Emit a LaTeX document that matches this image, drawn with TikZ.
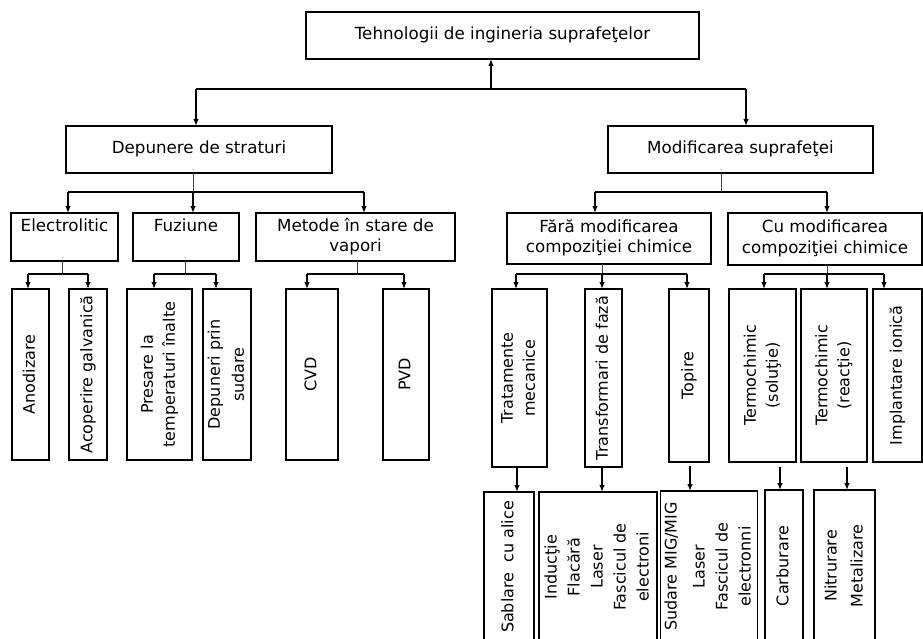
\documentclass[tikz,border=0pt]{standalone}
\usepackage{fontspec}
\setmainfont{DejaVu Sans}
\usepackage{graphicx}
\usetikzlibrary{arrows.meta}
\newcommand{\vt}[2][22]{\rotatebox{90}{\fontsize{16}{#1}\selectfont\begin{tabular}{@{}c@{}}#2\end{tabular}}}
\newcommand{\hx}[1]{{\fontsize{16.7}{20}\selectfont\begin{tabular}{@{}c@{}}#1\end{tabular}}}
\tikzset{
  box/.style={draw, line width=1.1pt, inner sep=0pt, outer sep=0pt, align=center},
  ln/.style={line width=1.3pt},
  stub/.style={line width=0.9pt, black!75},
  arr/.style={line width=1.3pt, -{Latex[length=7pt,width=5.5pt]}},
}
\begin{document}
\begin{tikzpicture}[x=1pt,y=-1pt]
\useasboundingbox (0,0) rectangle (923,639);
% level 0
\node[box, minimum width=393pt, minimum height=47pt] (top) at (502.5,35.5) {\hx{Tehnologii de ingineria suprafeţelor}};
% level 1
\node[box, minimum width=266pt, minimum height=47pt] (dep) at (199,149.5) {\hx{Depunere de straturi}};
\node[box, minimum width=265pt, minimum height=47pt] (mod) at (740.5,149.5) {\hx{Modificarea suprafeţei}};
% level 2
\node[box, minimum width=107pt, minimum height=48pt] (ele) at (64.5,237) {\hx{Electrolitic\\~}};
\node[box, minimum width=106pt, minimum height=48pt] (fuz) at (186,237) {\hx{Fuziune\\~}};
\node[box, minimum width=199pt, minimum height=48pt] (met) at (355.5,237) {\hx{Metode în stare de\\vapori}};
\node[box, minimum width=204pt, minimum height=51pt] (fara) at (609,238.5) {\hx{Fără modificarea\\compoziţiei chimice}};
\node[box, minimum width=194pt, minimum height=52pt] (cu) at (825,239) {\hx{Cu modificarea\\compoziţiei chimice}};
% level 3 left
\node[box, minimum width=37pt, minimum height=171pt] (ano) at (30.5,374.5) {\vt{Anodizare}};
\node[box, minimum width=38pt, minimum height=171pt] (aco) at (88,374.5) {\vt{Acoperire galvanică}};
\node[box, minimum width=65pt, minimum height=171pt] (pre) at (159.5,374.5) {\vt{Presare la\\temperaturi înalte}};
\node[box, minimum width=46pt, minimum height=171pt] (dpr) at (227,374.5) {\vt[24]{Depuneri prin\\sudare}};
\node[box, minimum width=52pt, minimum height=171pt] (cvd) at (312,374.5) {\vt{CVD}};
\node[box, minimum width=46pt, minimum height=171pt] (pvd) at (406,374.5) {\vt{PVD}};
% level 3 right
\node[box, minimum width=55pt, minimum height=178pt] (trat) at (519.5,378) {\vt{Tratamente\\mecanice}};
\node[box, minimum width=37pt, minimum height=178pt] (trans) at (603.5,378) {\vt{Transformari de fază}};
\node[box, minimum width=40pt, minimum height=173pt] (topi) at (689,375.5) {\vt{Topire}};
\node[box, minimum width=67pt, minimum height=173pt] (tsol) at (762.5,375.5) {\vt{Termochimic\\(soluţie)}};
\node[box, minimum width=66pt, minimum height=173pt] (trea) at (834,375.5) {\vt{Termochimic\\(reacţie)}};
\node[box, minimum width=49pt, minimum height=173pt] (impl) at (897.5,375.5) {\vt{Implantare ionică}};
% level 4
\node[box, minimum width=50pt, minimum height=150pt] (sab) at (509,567) {\vt{Sablare\ \ cu alice\hspace{4pt}}};
\node[box, minimum width=118pt, minimum height=150pt] (ind) at (598,567) {\vt[23]{Inducţie\\Flacără\\Laser\\Fascicul de\\electroni}};
\node[box, minimum width=94pt, minimum height=151pt] (sud) at (709,566.5) {\vt[23]{Sudare MIG/MIG\\[5pt]Laser\\Fascicul de\\electronni}};
\node[box, minimum width=38pt, minimum height=152pt] (carb) at (784,566) {\vt{Carburare}};
\node[box, minimum width=61pt, minimum height=152pt] (nit) at (844.5,566) {\vt[26]{Nitrurare\\Metalizare}};
% connectors level 0-1
\coordinate (j0) at (491,89);
\coordinate (jl) at (196,89);
\coordinate (jr) at (746,89);
\draw[ln] (jl) -- (jr);
\draw[arr] (j0) -- (j0 |- top.south);
\draw[arr] (jl) -- (jl |- dep.north);
\draw[arr] (jr) -- (jr |- mod.north);
% level 1-2 left
\coordinate (dl) at (68,192);
\coordinate (dm) at (193,192);
\coordinate (dr) at (364,192);
\draw[stub] (dm |- dep.south) -- (dm);
\draw[ln] (dl) -- (dr);
\draw[arr] (dl) -- (dl |- ele.north);
\draw[arr] (dm) -- (dm |- fuz.north);
\draw[arr] (dr) -- (dr |- met.north);
% level 1-2 right
\coordinate (ml) at (595,192);
\coordinate (mm) at (721,192);
\coordinate (mr) at (827,192);
\draw[stub] (mm |- mod.south) -- (mm);
\draw[ln] (ml) -- (mr);
\draw[arr] (ml) -- (ml |- fara.north);
\draw[arr] (mr) -- (mr |- cu.north);
% level 2-3 left
\coordinate (el) at (28,274);
\coordinate (em) at (62,274);
\coordinate (er) at (88,274);
\draw[stub] (em |- ele.south) -- (em);
\draw[ln] (el) -- (er);
\draw[arr] (el) -- (el |- ano.north);
\draw[arr] (er) -- (er |- aco.north);
\coordinate (fl) at (154,274);
\coordinate (fm) at (185,274);
\coordinate (fr) at (216,274);
\draw[stub] (fm |- fuz.south) -- (fm);
\draw[ln] (fl) -- (fr);
\draw[arr] (fl) -- (fl |- pre.north);
\draw[arr] (fr) -- (fr |- dpr.north);
\coordinate (vl) at (307,274);
\coordinate (vm) at (357,274);
\coordinate (vr) at (404,274);
\draw[stub] (vm |- met.south) -- (vm);
\draw[ln] (vl) -- (vr);
\draw[arr] (vl) -- (vl |- cvd.north);
\draw[arr] (vr) -- (vr |- pvd.north);
% level 2-3 right
\coordinate (al) at (516,274);
\coordinate (am) at (602,274);
\coordinate (ar) at (687,274);
\draw[stub] (am |- fara.south) -- (am);
\draw[ln] (al) -- (ar);
\draw[arr] (al) -- (al |- trat.north);
\draw[arr] (am) -- (am |- trans.north);
\draw[arr] (ar) -- (ar |- topi.north);
\coordinate (cl) at (764,274);
\coordinate (cm) at (827,274);
\coordinate (cr) at (884,274);
\draw[stub] (cm |- cu.south) -- (cm);
\draw[ln] (cl) -- (cr);
\draw[arr] (cl) -- (cl |- tsol.north);
\draw[arr] (cm) -- (cm |- trea.north);
\draw[arr] (cr) -- (cr |- impl.north);
% level 3-4
\coordinate (k1) at (517,0);
\coordinate (k2) at (602,0);
\coordinate (k3) at (690,0);
\coordinate (k4) at (780,0);
\coordinate (k5) at (847,0);
\draw[arr] (k1 |- trat.south) -- (k1 |- sab.north);
\draw[arr] (k2 |- trans.south) -- (k2 |- ind.north);
\draw[arr, shorten <=4pt] (k3 |- topi.south) -- (k3 |- sud.north);
\draw[arr, shorten <=5pt] (k4 |- tsol.south) -- (k4 |- carb.north);
\draw[arr, shorten <=5pt] (k5 |- trea.south) -- (k5 |- nit.north);
\end{tikzpicture}
\end{document}
